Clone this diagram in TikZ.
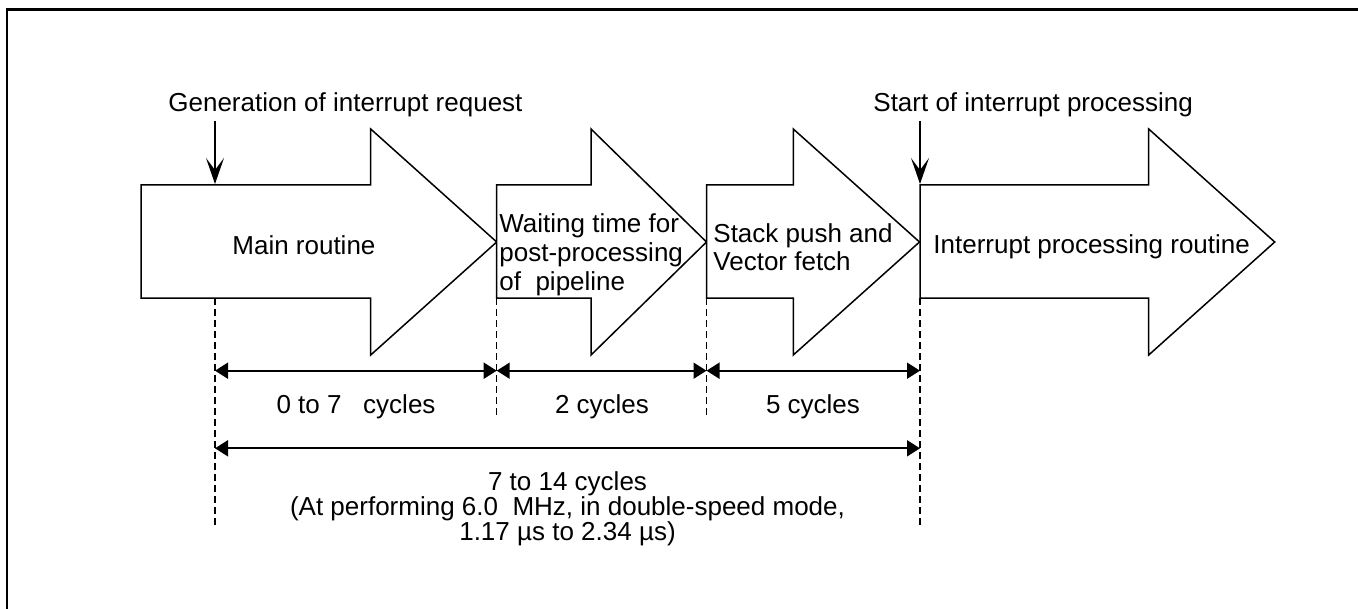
\documentclass[tikz,border=0pt]{standalone}
\usepackage{fontspec}
\setmainfont{Liberation Sans}
\usetikzlibrary{arrows.meta}
\begin{document}
\begin{tikzpicture}[
  x=0.5pt, y=-0.5pt,
  flow/.style={draw=black, line width=0.75pt, fill=white, line join=miter},
  lbl/.style={inner sep=0, anchor=base west, font=\fontsize{13}{14.3}\selectfont},
  cyc/.style={inner sep=0, anchor=base, align=center, font=\fontsize{13}{12.5}\selectfont},
  guide/.style={line width=0.6pt, dash pattern=on 3.5pt off 2pt},
  span/.style={line width=0.9pt, {Triangle[length=6.5pt,width=8pt]}-{Triangle[length=6.5pt,width=8pt]}},
  evt/.style={line width=0.75pt, -{Stealth[length=13pt,width=9pt,inset=6pt]}}
]
\useasboundingbox (0,0) rectangle (1358,609);
\draw[line width=1.2pt] (7,609) -- (7,9.5) -- (1358,9.5);
% block arrows: left edge / start of head / tip
\foreach \l/\h/\t in {141/370.7/496.7, 496.7/591/706.5, 706.5/793.3/919.5, 920/1148.7/1274.7}{
  \draw[flow] (\l,185) -- (\h,185) -- (\h,129) -- (\t,242) -- (\h,355) -- (\h,298) -- (\l,298) -- cycle;
}
\node[lbl] (main) at (232,255) {Main routine};
\node[lbl, align=left] (wait) at (499,290) {Waiting time for\\post-processing\\of\ \ pipeline};
\node[lbl, align=left] (stack) at (713,270.7) {Stack push and\\Vector fetch};
\node[lbl] (isr) at (933,253) {Interrupt processing routine};
% events
\node[lbl] (genreq) at (168,112) {Generation of interrupt request};
\node[lbl] (start) at (873,112) {Start of interrupt processing};
\coordinate (req0) at (215,121);  \coordinate (req1) at (215,184);
\coordinate (st0) at (920,121);   \coordinate (st1) at (920,184);
\draw[evt] (req0) -- (req1);
\draw[evt] (st0) -- (st1);
% guide lines
\coordinate (g0) at (215,298);   \coordinate (e0) at (215,525);
\coordinate (g1) at (496.7,298); \coordinate (e1) at (496.7,418);
\coordinate (g2) at (706.5,298); \coordinate (e2) at (706.5,418);
\coordinate (g3) at (920,298);   \coordinate (e3) at (920,525);
\foreach \i in {0,...,3}{
  \draw[guide] (g\i) -- (e\i);
}
% cycle counts
\foreach \i/\x in {0/215, 1/496.7, 2/706.5, 3/920}{
  \coordinate (s\i) at (\x,370.7);
}
\coordinate (t0) at (215,448.3); \coordinate (t3) at (920,448.3);
\foreach \i/\j in {0/1, 1/2, 2/3}{
  \draw[span] (s\i) -- (s\j);
}
\draw[span] (t0) -- (t3);
\node[cyc] (c07) at (356,413) {0 to 7\ \ \ cycles};
\node[cyc] (c2) at (602,413) {2 cycles};
\node[cyc] (c5) at (813,413) {5 cycles};
\node[cyc] (total) at (567.5,540) {7 to 14 cycles\\(At performing 6.0\ \ MHz, in double-speed mode,\\1.17 µs to 2.34 µs)};
\end{tikzpicture}
\end{document}
